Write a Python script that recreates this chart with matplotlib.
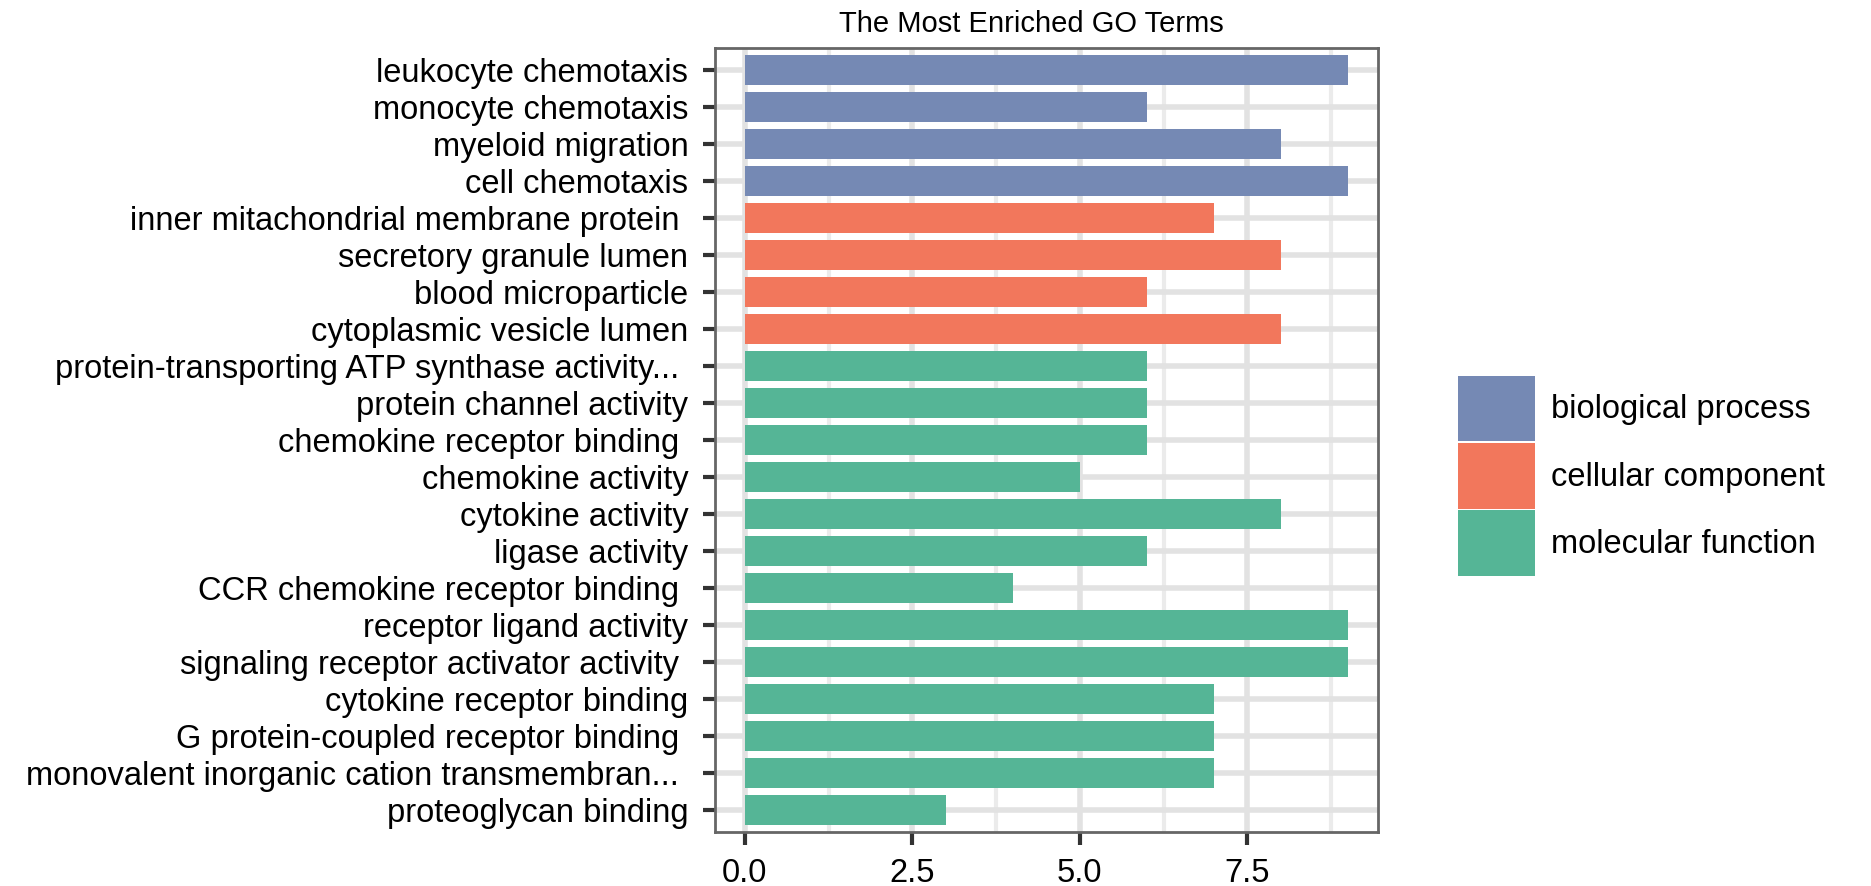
import matplotlib
matplotlib.use("Agg")
import matplotlib.pyplot as plt
from matplotlib.patches import Patch
from matplotlib.ticker import MultipleLocator

plt.rcParams['font.family'] = ['Liberation Sans', 'DejaVu Sans']

terms = [
    "leukocyte chemotaxis",
    "monocyte chemotaxis",
    "myeloid migration",
    "cell chemotaxis",
    "inner mitachondrial membrane protein ",
    "secretory granule lumen",
    "blood microparticle",
    "cytoplasmic vesicle lumen",
    "protein-transporting ATP synthase activity... ",
    "protein channel activity",
    "chemokine receptor binding ",
    "chemokine activity",
    "cytokine activity",
    "ligase activity",
    "CCR chemokine receptor binding ",
    "receptor ligand activity",
    "signaling receptor activator activity ",
    "cytokine receptor binding",
    "G protein-coupled receptor binding ",
    "monovalent inorganic cation transmembran... ",
    "proteoglycan binding",
]
counts = [9, 6, 8, 9, 7, 8, 6, 8, 6, 6, 6, 5, 8, 6, 4, 9, 9, 7, 7, 7, 3]
groups = ["biological process"] * 4 + ["cellular component"] * 4 + ["molecular function"] * 13
group_names = ["biological process", "cellular component", "molecular function"]
group_colors = {"biological process": "#7589B4",
                "cellular component": "#F2775C",
                "molecular function": "#55B596"}

FS = 23.5

fig = plt.figure(figsize=(18.71, 8.86), dpi=100)
ax = fig.add_axes([0.382, 0.061, 0.3545, 0.885])

n = len(terms)
ypos = list(range(n))
ax.barh(ypos, counts, height=0.82, color=[group_colors[g] for g in groups], zorder=3)

ax.set_ylim(n - 1 + 0.6, -0.6)
ax.set_xlim(-0.45, 9.45)
ax.set_yticks(ypos)
ax.set_yticklabels(terms, fontsize=FS, color='black')
ax.xaxis.set_minor_locator(MultipleLocator(1.25))
ax.set_xticks([0, 2.5, 5.0, 7.5])
ax.set_xticklabels(["0.0", "2.5", "5.0", "7.5"], fontsize=FS, color='black')

ax.grid(True, which='major', axis='both', color='#E2E2E2', linewidth=4, zorder=0)
ax.grid(True, which='minor', axis='x', color='#EBEBEB', linewidth=3, zorder=0)
ax.tick_params(axis='both', which='major', length=9, width=3, color='#333333', pad=10)
ax.tick_params(axis='x', which='minor', length=0)
for s in ax.spines.values():
    s.set_color('#666666')
    s.set_linewidth(2)

fig.text(0.551, 0.973, "The Most Enriched GO Terms", fontsize=21,
         ha='center', va='center')

handles = [Patch(facecolor=group_colors[g], edgecolor='none') for g in group_names]
fig.legend(handles, group_names, loc='center left', bbox_to_anchor=(0.779, 0.463),
           frameon=False, fontsize=FS, handlelength=2.38, handleheight=2.72,
           labelspacing=0.05, handletextpad=0.48, borderpad=0, borderaxespad=0)

fig.savefig("out.png", dpi=100)
